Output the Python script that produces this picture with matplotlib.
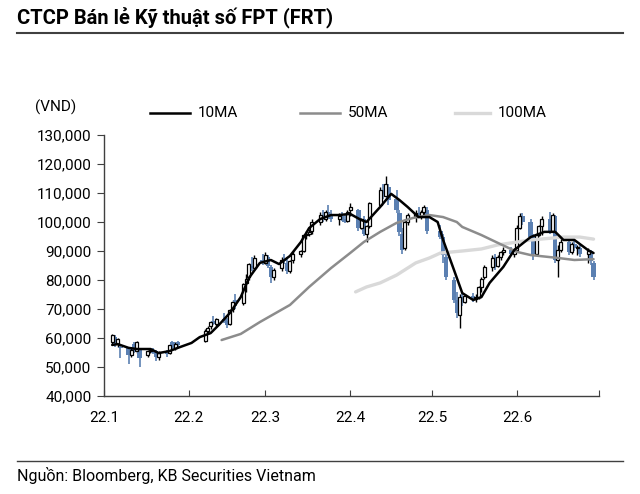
import numpy as np
import pandas as pd
import matplotlib
matplotlib.use("Agg")
import matplotlib.pyplot as plt
from matplotlib.lines import Line2D
from matplotlib.ticker import FuncFormatter

plt.rcParams['font.family'] = ['Roboto', 'DejaVu Sans']

# trading days (Vietnam holidays removed)
holidays = ['2022-01-31', '2022-02-01', '2022-02-02', '2022-02-03', '2022-02-04',
            '2022-04-11', '2022-05-02', '2022-05-03']
days = pd.bdate_range('2022-01-04', '2022-06-29').difference(pd.to_datetime(holidays))

# OHLC, thousand VND
opens = [58.5, 60.5, 58, 57, 56.5, 54, 58, 55.5, 56, 54, 55.5, 56, 55.5, 53.5, 55, 55, 58.5, 56.5, 58.5,
         59, 62.5, 64, 66, 65, 66.5, 66, 65, 70, 73, 72, 79, 81, 85, 84, 87,
         86, 88, 84.5, 81, 84, 87, 86, 83, 87, 89, 90, 95.5, 96, 97, 100, 102.5, 101, 103.5, 102, 101, 102, 101, 100.5,
         104, 104, 98, 101, 96, 98.5, 106, 111, 109, 112, 108, 103, 96, 91, 100, 102, 103, 102, 103.5, 104,
         97, 95, 88, 80, 73, 68, 74, 72.5, 74.5, 73.5, 74, 77.5, 81, 84.5, 88, 85, 88, 89.5, 90.5, 89,
         90.5, 98, 102, 100, 95, 89, 95.5, 98.5, 101, 97, 102, 87, 90.5, 93, 89.5, 92.5, 91, 91, 89, 90, 86]
highs = [61.5, 61, 60, 58, 57, 57, 58.5, 59, 56.5, 56, 56.5, 56.5, 56, 55.5, 56, 58, 59, 58.5, 59,
         63, 64, 66, 67.5, 67, 68.5, 67, 70, 73, 75, 79, 82, 86, 88, 88.5, 89,
         89.5, 88.5, 85, 84, 88, 89, 88, 87, 90, 90.5, 96, 97, 97.5, 101, 103.5, 104, 104, 106, 104, 103, 103.5, 102.5, 104,
         106.5, 104.5, 101.5, 102, 99, 107, 112, 113, 116, 113, 111, 104, 98, 101, 103, 104, 105, 104, 106, 105,
         99, 96, 89, 81, 76, 75, 76, 75, 75.5, 75, 78, 81, 85, 88.5, 89, 88.5, 90, 91.5, 91.5, 91,
         99, 103, 103, 101, 96, 96, 99, 102, 103.5, 103, 102.5, 92, 94, 94, 93, 93.5, 92, 92, 91, 90.5, 86.5]
lows = [58, 57, 57, 53, 51, 53.5, 55, 55, 50, 53.5, 55, 54.5, 52, 52.5, 53.5, 54.5, 56, 56, 57,
        58.5, 61.5, 63, 64.5, 64, 65, 63.5, 64.5, 69, 70, 71.5, 76, 80, 83, 83.5, 85,
        85.5, 84, 79, 80, 83, 85.5, 82, 82.5, 86, 88, 89.5, 94, 95, 96, 99, 100, 100.5, 101, 100, 99, 100.5, 99.5, 100,
        102, 97, 97.5, 95, 93, 98, 105.5, 108, 108.5, 106, 103, 95, 89, 90.5, 99, 100, 101.5, 101, 102, 96,
        94, 86, 80, 72, 67, 63.5, 71, 72, 72.5, 72.5, 73.5, 76, 80.5, 83, 83.5, 84.5, 87, 88.5, 88.5, 88,
        90, 97.5, 99, 94, 87, 88.5, 95, 95.5, 96, 96.5, 86, 81, 89.5, 88.5, 89, 90, 88.5, 88, 86, 85, 80]
closes = [61, 58, 59.5, 56.5, 54, 56, 55.5, 58.5, 53, 55.5, 56, 55, 53.5, 55, 54.5, 57.5, 56.5, 58, 57.5,
          62.5, 63.5, 65.5, 65, 66.5, 66, 64.5, 69.5, 72.5, 71, 78.5, 80.5, 85.5, 84, 87.5, 86,
          88.5, 85, 81, 83.5, 87, 86.5, 83, 86.5, 89, 90, 95.5, 96, 96.5, 100, 102.5, 101, 103.5, 102, 101, 102, 101, 100, 103.5,
          105, 98, 101, 96, 98.5, 106.5, 111, 109.5, 113, 107.5, 104, 96.5, 90.5, 100, 102.5, 103, 102, 103.5, 105, 97,
          95, 88.5, 81, 73, 68.5, 74, 72.5, 74.5, 73.5, 74, 77.5, 80.5, 84.5, 87.5, 84.5, 88, 89.5, 90.5, 89, 90.5,
          98, 102, 100, 95, 89, 95.5, 98.5, 101, 97, 102.5, 87, 90.5, 93, 89.5, 92.5, 91, 91.5, 89, 90, 86.5, 81]

# moving averages, thousand VND
ma10_dates = ['2022-01-04', '2022-01-06', '2022-01-10', '2022-01-13', '2022-01-18', '2022-01-21', '2022-01-25',
              '2022-01-28', '2022-02-02', '2022-02-05', '2022-02-09', '2022-02-12', '2022-02-16', '2022-02-20',
              '2022-02-23', '2022-02-27', '2022-03-03', '2022-03-06', '2022-03-10', '2022-03-14', '2022-03-17',
              '2022-03-21', '2022-03-25', '2022-03-28', '2022-04-01', '2022-04-05', '2022-04-07', '2022-04-12',
              '2022-04-16', '2022-04-19', '2022-04-22', '2022-04-26', '2022-04-30', '2022-05-03', '2022-05-05',
              '2022-05-09', '2022-05-12', '2022-05-16', '2022-05-19', '2022-05-22', '2022-05-27', '2022-05-31',
              '2022-06-06', '2022-06-11', '2022-06-15', '2022-06-18', '2022-06-22', '2022-06-27', '2022-06-29']
ma10 = [57.6, 57.9, 56.6, 56.2, 56.2, 54.8, 55.5, 56.6, 58.3, 60.3, 61.7, 64.5, 68.6, 74.1, 80.7, 85.9,
        86.9, 85.5, 88.3, 93.1, 97.9, 101.0, 102.4, 102.4, 102.8, 100.7, 100.0, 105.2, 109.7, 107.6, 105.2,
        101.7, 101.7, 100.0, 93.8, 83.4, 75.5, 73.1, 74.1, 79.0, 84.5, 90.3, 94.8, 96.6, 96.6, 93.8, 93.8,
        90.3, 89.3]

ma50_dates = ['2022-02-13', '2022-02-20', '2022-02-27', '2022-03-10', '2022-03-17', '2022-03-25', '2022-04-01',
              '2022-04-06', '2022-04-12', '2022-04-18', '2022-04-24', '2022-04-30', '2022-05-05', '2022-05-10',
              '2022-05-12', '2022-05-19', '2022-05-25', '2022-06-01', '2022-06-06', '2022-06-16', '2022-06-22',
              '2022-06-29']
ma50 = [59.3, 61.4, 65.5, 71.4, 77.6, 84.1, 89.3, 93.1, 96.6, 99.7, 101.4, 102.4, 101.7, 100.0,
        98.3, 95.5, 92.8, 89.7, 88.6, 87.6, 86.9, 87.2]

ma100_dates = ['2022-04-03', '2022-04-07', '2022-04-12', '2022-04-18', '2022-04-25', '2022-04-30', '2022-05-04',
               '2022-05-12', '2022-05-19', '2022-05-25', '2022-06-06', '2022-06-18', '2022-06-24', '2022-06-29']
ma100 = [75.9, 77.6, 79.0, 81.7, 85.9, 87.6, 89.3, 90.0, 90.7, 92.1, 93.8, 94.8, 94.8, 94.1]

month_labels = ['22.1', '22.2', '22.3', '22.4', '22.5', '22.6', '']

o = np.array(opens) * 1000
h = np.array(highs) * 1000
l = np.array(lows) * 1000
c = np.array(closes) * 1000
up = c >= o
blue = '#5b80b2'

fig = plt.figure(figsize=(6.4, 4.94), dpi=100)
ax = fig.add_axes([104 / 640, 1 - 396 / 494, 495 / 640, 261 / 494])

# candles
ax.vlines(days[up], l[up], h[up], color='black', lw=1.0, zorder=2)
ax.vlines(days[~up], l[~up], h[~up], color=blue, lw=1.2, zorder=2)
ax.bar(days[~up], o[~up] - c[~up], bottom=c[~up], width=1.6, color=blue, lw=0, zorder=3)
ax.bar(days[up], c[up] - o[up], bottom=o[up], width=1.1, facecolor='white',
       edgecolor='black', lw=0.9, zorder=3)

# moving averages
line_kw = dict(solid_joinstyle='round', solid_capstyle='round')
ax.plot(pd.to_datetime(ma100_dates), np.array(ma100) * 1000, color='#d9d9d9', lw=2.4, zorder=4, **line_kw)
ax.plot(pd.to_datetime(ma50_dates), np.array(ma50) * 1000, color='#8c8c8c', lw=1.8, zorder=5, **line_kw)
ax.plot(pd.to_datetime(ma10_dates), np.array(ma10) * 1000, color='black', lw=1.8, zorder=6, **line_kw)

ax.set_xlim(pd.Timestamp('2022-01-01'), pd.Timestamp('2022-07-01'))
ax.set_ylim(40000, 130000)
ax.set_yticks(np.arange(40000, 130001, 10000))
ax.yaxis.set_major_formatter(FuncFormatter(lambda v, p: f'{int(v):,}'))
ticks = pd.date_range('2022-01-01', '2022-07-01', freq='MS')
ax.set_xticks(ticks)
ax.set_xticklabels(month_labels)

for s in ['top', 'right']:
    ax.spines[s].set_visible(False)
for s in ['left', 'bottom']:
    ax.spines[s].set_color('#404040')
    ax.spines[s].set_linewidth(1.0)
ax.tick_params(axis='y', direction='out', length=5, color='#404040', labelsize=11, pad=4)
ax.tick_params(axis='x', direction='in', length=4, color='#404040', labelsize=11, pad=11)

# legend
legend_items = [(150, 190, 'black', 1.8, '10MA'), (300, 340, '#8c8c8c', 1.8, '50MA'),
                (455, 490, '#d9d9d9', 2.4, '100MA')]
ly = 1 - 113 / 494
for x0, x1, col, lw, lab in legend_items:
    fig.add_artist(Line2D([x0 / 640, x1 / 640], [ly, ly], color=col, lw=lw))
    fig.text((x1 + 8) / 640, ly, lab, fontsize=11, va='center', ha='left')

fig.text(35 / 640, 1 - 107 / 494, '(VND)', fontsize=11, va='center', ha='left')

# title, rules and source
fig.text(17 / 640, 1 - 18 / 494, 'CTCP Bán lẻ Kỹ thuật số FPT (FRT)', fontsize=14.5,
         fontweight='bold', va='center', ha='left')
fig.add_artist(Line2D([17 / 640, 623 / 640], [1 - 33 / 494, 1 - 33 / 494], color='#404040', lw=1.5))
fig.add_artist(Line2D([17 / 640, 623 / 640], [1 - 461 / 494, 1 - 461 / 494], color='#404040', lw=1.0))
fig.text(17 / 640, 1 - 475 / 494, 'Nguồn: Bloomberg, KB Securities Vietnam', fontsize=11.5,
         va='center', ha='left')

fig.savefig('out.png', dpi=100)
